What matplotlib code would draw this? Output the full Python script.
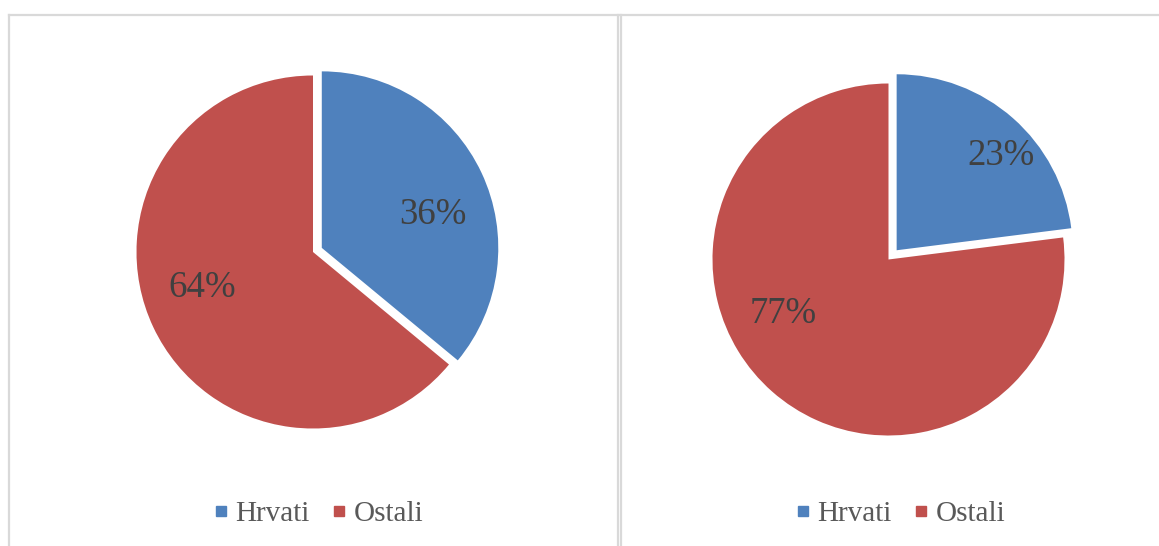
import matplotlib
matplotlib.use("Agg")
import matplotlib.pyplot as plt
from matplotlib.lines import Line2D

categories = ["Hrvati", "Ostali"]
left_values = [36, 64]
right_values = [23, 77]
colors = ["#4F81BD", "#C0504D"]

W, H = 1159, 546
fig = plt.figure(figsize=(W / 100, H / 100), dpi=100)
plt.rcParams["font.family"] = ["Liberation Serif", "DejaVu Serif"]

def px_axes(cx, cy, R, lim=1.2):
    size = 2 * lim * R
    left = cx - size / 2
    bottom = (H - cy) - size / 2
    ax = fig.add_axes([left / W, bottom / H, size / W, size / H])
    ax.set_xlim(-lim, lim)
    ax.set_ylim(-lim, lim)
    ax.set_aspect("equal")
    ax.axis("off")
    return ax

def draw_pie(ax, values, explode, label_pos):
    wedges, texts, autotexts = ax.pie(
        values, colors=colors, startangle=90, counterclock=False,
        explode=explode, autopct="%d%%", radius=1.0,
        wedgeprops=dict(linewidth=0), textprops=dict(color="#404040", fontsize=26.5))
    for t, p in zip(autotexts, label_pos):
        t.set_position(p)
        t.set_ha("center")
        t.set_va("center")
    ax.set_xlim(-1.2, 1.2)
    ax.set_ylim(-1.2, 1.2)

ax1 = px_axes(313, 252, 176.5)
draw_pie(ax1, left_values, [0.055, 0], [(0.68, 0.21), (-0.63, -0.20)])

ax2 = px_axes(888.5, 259.5, 176)
draw_pie(ax2, right_values, [0.07, 0], [(0.64, 0.59), (-0.60, -0.31)])

# panel borders
border = "#D9D9D9"
def fline(xs, ys):
    fig.add_artist(Line2D([x / W for x in xs], [1 - y / H for y in ys],
                          color=border, linewidth=1.6, transform=fig.transFigure))
fline([8.5, 618.5], [14.5, 14.5])
fline([8.5, 8.5], [14.5, 560])
fline([618, 618], [14.5, 560])
fline([620.5, 620.5], [14.5, 560])
fline([620.5, 1170], [14.5, 14.5])

handles = [Line2D([], [], marker="s", linestyle="", color=c, markersize=6.5) for c in colors]
for cx in (319, 901):
    fig.legend(handles, categories, loc="center", bbox_to_anchor=(cx / W, 1 - 514 / H),
               ncol=2, frameon=False, fontsize=21, handlelength=0.4, handletextpad=0.3,
               columnspacing=0.8, labelcolor="#595959")

fig.savefig("out.png", dpi=100)
